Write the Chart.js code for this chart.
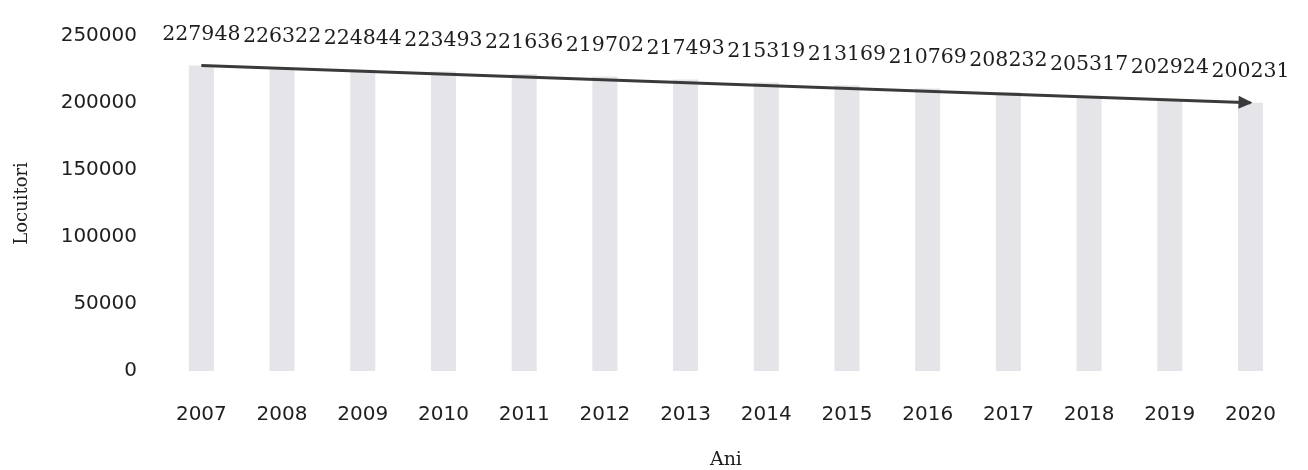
<!DOCTYPE html>
<html>
<head>
<meta charset="utf-8">
<script src="https://cdn.jsdelivr.net/npm/chart.js@4"></script>
<style>
  body { margin: 0; background: #fff; }
  #wrap { width: 1308px; height: 470px; position: relative; }
</style>
</head>
<body>
<div id="wrap"><canvas id="my_canvas"></canvas></div>
<script>
var years = ['2007','2008','2009','2010','2011','2012','2013','2014','2015','2016','2017','2018','2019','2020'];
var locuitori = [227948, 226322, 224844, 223493, 221636, 219702, 217493, 215319, 213169, 210769, 208232, 205317, 202924, 200231];
var yMax = 250000;
var yStep = 50000;

// trend arrow: only first and last year
var trend = locuitori.map(function(v, i){
    return (i === 0 || i === locuitori.length - 1) ? v : null;
});

var valueLabels = {
    id: 'valueLabels',
    afterDatasetsDraw: function(chart) {
        var ctx = chart.ctx;
        var meta = chart.getDatasetMeta(1);
        ctx.save();
        ctx.font = '20.5px "DejaVu Serif"';
        ctx.fillStyle = '#1e1e1e';
        ctx.textAlign = 'center';
        ctx.textBaseline = 'middle';
        meta.data.forEach(function(bar, i){
            ctx.fillText(locuitori[i], bar.x, bar.y - 31);
        });

        // arrow head at the end of the trend line
        var pts = chart.getDatasetMeta(0).data;
        var a = pts[0], b = pts[pts.length - 1];
        var ang = Math.atan2(b.y - a.y, b.x - a.x);
        ctx.fillStyle = '#3a3a3a';
        ctx.translate(b.x, b.y);
        ctx.rotate(ang);
        ctx.beginPath();
        ctx.moveTo(2, 0);
        ctx.lineTo(-12, -6.5);
        ctx.lineTo(-12, 6.5);
        ctx.closePath();
        ctx.fill();
        ctx.restore();
    }
};

var chartdata = {
    labels: years,
    datasets: [
        {
            type: 'line',
            label: 'trend',
            data: trend,
            spanGaps: true,
            borderColor: '#3a3a3a',
            borderWidth: 3,
            pointRadius: 0,
            tension: 0,
            order: 0
        },
        {
            type: 'bar',
            label: 'Locuitori',
            data: locuitori,
            backgroundColor: '#e4e4e9',
            barPercentage: 0.31,
            categoryPercentage: 1,
            order: 1
        }
    ]
};

var ctx = document.getElementById('my_canvas');

var barGraph = new Chart(ctx, {
    type: 'bar',
    data: chartdata,
    plugins: [valueLabels],
    options: {
        responsive: true,
        maintainAspectRatio: false,
        animation: false,
        layout: { padding: { top: 28, right: 1, left: 0, bottom: 0 } },
        plugins: {
            legend: { display: false },
            tooltip: { enabled: false }
        },
        scales: {
            x: {
                grid: { display: false, drawTicks: false },
                border: { display: false },
                ticks: {
                    color: '#1e1e1e',
                    font: { family: 'DejaVu Sans', size: 20 },
                    padding: 32,
                    maxRotation: 0
                },
                title: {
                    display: true,
                    text: 'Ani',
                    color: '#1e1e1e',
                    font: { family: 'DejaVu Serif', size: 19, lineHeight: 1 },
                    padding: 0
                },
                afterFit: function(scale){ scale.height = 99; }
            },
            y: {
                min: 0,
                max: yMax,
                grid: { display: false, drawTicks: false },
                border: { display: false },
                ticks: {
                    stepSize: yStep,
                    color: '#1e1e1e',
                    font: { family: 'DejaVu Sans', size: 20 },
                    padding: 24,
                    callback: function(v){ return String(v); }
                },
                title: {
                    display: true,
                    text: 'Locuitori',
                    color: '#1e1e1e',
                    font: { family: 'DejaVu Serif', size: 18, lineHeight: 1 },
                    padding: { top: 13, bottom: 0 }
                },
                afterFit: function(scale){ scale.width = 161; }
            }
        }
    }
});
</script>
</body>
</html>
